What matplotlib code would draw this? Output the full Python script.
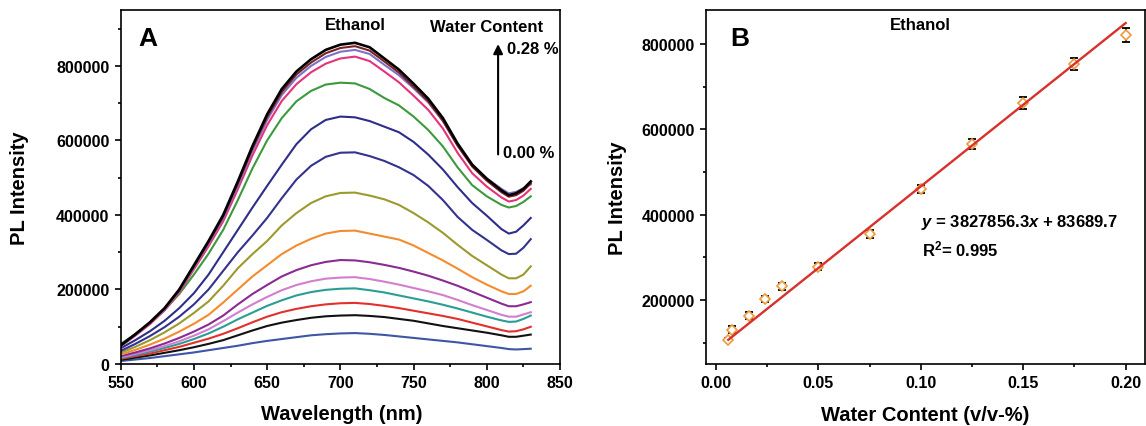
import numpy as np
import matplotlib
matplotlib.use('Agg')
import matplotlib.pyplot as plt
from matplotlib.ticker import MultipleLocator, FormatStrFormatter

plt.rcParams['font.family'] = ['Liberation Sans', 'DejaVu Sans']
plt.rcParams['font.weight'] = 'bold'
plt.rcParams['axes.labelweight'] = 'bold'
plt.rcParams['mathtext.fontset'] = 'custom'
plt.rcParams['mathtext.rm'] = 'Liberation Sans:bold'
plt.rcParams['mathtext.it'] = 'Liberation Sans:italic:bold'
plt.rcParams['mathtext.bf'] = 'Liberation Sans:bold'

# ---- panel A: PL spectra, intensities in units of 1e3 counts ----
wavelength = [550, 560, 570, 580, 590, 600, 610, 620, 630, 640, 650, 660, 670, 680, 690,
              700, 710, 720, 730, 740, 750, 760, 770, 780, 790, 800, 810, 815, 820, 825, 830]

pl_blue = [8, 12, 16, 21, 26, 31, 37, 43, 49, 56, 62, 67, 72, 77, 80, 82, 83, 81, 78, 74,
           70, 66, 62, 58, 53, 48, 43, 40, 39, 40, 41]
pl_black = [11, 17, 23, 30, 37, 45, 54, 64, 77, 90, 102, 111, 118, 124, 128, 130, 131, 129, 126, 121,
            116, 109, 102, 96, 90, 84, 77, 73, 73, 76, 79]
pl_red = [14, 21, 28, 37, 46, 57, 68, 81, 96, 112, 127, 139, 148, 155, 160, 163, 164, 161, 156, 150,
          143, 136, 129, 121, 111, 101, 91, 87, 88, 93, 100]
pl_teal = [16, 24, 33, 43, 54, 67, 82, 100, 120, 138, 156, 171, 184, 193, 199, 202, 203, 198, 192, 184,
           176, 168, 159, 149, 138, 127, 117, 113, 114, 121, 130]
pl_lilac = [18, 27, 37, 48, 61, 76, 93, 115, 138, 160, 180, 198, 212, 222, 229, 232, 233, 228, 221, 213,
            204, 195, 185, 172, 158, 145, 132, 127, 127, 133, 139]
pl_purple = [21, 31, 42, 55, 70, 87, 106, 130, 160, 188, 212, 235, 252, 265, 274, 279, 278, 273, 266, 258,
             248, 237, 224, 210, 194, 178, 162, 155, 155, 160, 166]
pl_orange = [25, 38, 52, 68, 87, 108, 132, 165, 200, 235, 265, 295, 318, 336, 350, 357, 358, 350, 342, 334,
             318, 298, 278, 256, 233, 213, 195, 188, 188, 195, 210]
pl_olive = [30, 46, 64, 85, 109, 137, 168, 210, 257, 295, 330, 372, 405, 432, 450, 459, 460, 452, 442, 427,
            405, 380, 352, 320, 290, 265, 240, 230, 230, 240, 262]
pl_navy1 = [35, 54, 75, 99, 127, 160, 200, 250, 300, 345, 392, 445, 495, 532, 556, 567, 568, 558, 545, 528,
            507, 478, 440, 395, 360, 333, 305, 295, 296, 312, 335]
pl_navy2 = [42, 64, 88, 116, 150, 190, 240, 300, 360, 420, 478, 535, 590, 630, 655, 664, 662, 652, 637, 622,
            596, 562, 522, 475, 432, 398, 362, 350, 355, 372, 392]
pl_green = [54, 80, 110, 145, 188, 240, 296, 360, 440, 525, 600, 660, 705, 733, 750, 755, 753, 738, 714, 694,
            664, 628, 584, 528, 480, 450, 427, 420, 424, 435, 450]
pl_pink = [47, 76, 107, 144, 192, 254, 316, 383, 469, 560, 641, 706, 751, 783, 806, 820, 825, 813, 785, 756,
           720, 682, 632, 567, 512, 476, 447, 436, 440, 452, 470]
pl_violet = [48, 78, 110, 147, 196, 259, 323, 391, 479, 572, 655, 722, 768, 800, 824, 838, 843, 832, 803, 775,
             740, 702, 652, 588, 535, 498, 470, 458, 462, 472, 482]
pl_brown = [49, 79, 111, 149, 198, 262, 327, 396, 485, 579, 663, 730, 777, 809, 834, 848, 853, 841, 812, 782,
            744, 705, 653, 586, 530, 492, 461, 449, 453, 465, 485]
pl_top = [50, 80, 112, 150, 200, 265, 330, 400, 490, 585, 670, 738, 785, 818, 843, 857, 862, 850, 820, 790,
          752, 712, 660, 592, 535, 497, 466, 453, 458, 470, 490]

spectra = [pl_blue, pl_black, pl_red, pl_teal, pl_lilac, pl_purple, pl_orange, pl_olive,
           pl_navy1, pl_navy2, pl_green, pl_pink, pl_violet, pl_brown, pl_top]
colors = ['#3F56A6', '#111111', '#E3302B', '#2A9E94', '#D27FCF', '#8A2B93', '#F28C2E', '#9B9A2E',
          '#33338F', '#2E2E88', '#3C9A3C', '#E6327A', '#8270C6', '#7A2323', '#000000']

# ---- panel B: calibration ----
water = [0.006, 0.008, 0.016, 0.024, 0.032, 0.05, 0.075, 0.1, 0.125, 0.15, 0.175, 0.2]
pl_mean = [107000, 130500, 163000, 202000, 232000, 278000, 355000, 460000, 565500, 663000, 753000, 821000]
pl_err = [3000, 8000, 8000, 7000, 7500, 8000, 10000, 9500, 11000, 14000, 14000, 16000]
slope = 3827856.3
intercept = 83689.7


def style_axes(ax):
    for s in ax.spines.values():
        s.set_linewidth(1.2)
    ax.tick_params(which='both', direction='out', top=False, right=False, width=1.2, labelsize=11.5, pad=4)
    ax.tick_params(which='major', length=4)
    ax.tick_params(which='minor', length=2.5)


fig = plt.figure(figsize=(11.46, 4.27), dpi=100)

# panel A
ax1 = fig.add_axes([0.1053, 0.1452, 0.3834, 0.829])
wl = np.array(wavelength)
for vals, c in zip(spectra, colors):
    lw = 1.9 if vals is pl_top else 1.5
    ax1.plot(wl, np.array(vals) * 1000, color=c, lw=lw)
ax1.set_xlim(550, 850)
ax1.set_ylim(0, 950000)
ax1.xaxis.set_major_locator(MultipleLocator(50))
ax1.xaxis.set_minor_locator(MultipleLocator(25))
ax1.yaxis.set_major_locator(MultipleLocator(200000))
ax1.yaxis.set_minor_locator(MultipleLocator(100000))
ax1.yaxis.set_major_formatter(FormatStrFormatter('%d'))
style_axes(ax1)
ax1.set_xlabel('Wavelength (nm)', fontsize=14.5)
ax1.set_ylabel('PL Intensity', fontsize=14.5)
ax1.xaxis.set_label_coords(0.503, -0.112)
ax1.yaxis.set_label_coords(-0.209, 0.5)
ax1.text(0.04, 0.955, 'A', transform=ax1.transAxes, fontsize=19, fontweight='bold', va='top')
ax1.text(0.533, 0.958, 'Ethanol', transform=ax1.transAxes, fontsize=12, ha='center', va='center')
ax1.text(0.832, 0.953, 'Water Content', transform=ax1.transAxes, fontsize=12, ha='center', va='center')
ax1.annotate('', xy=(807.7, 866000), xytext=(807.7, 555000),
             arrowprops=dict(arrowstyle='-|>', color='black', lw=1.5, mutation_scale=14))
ax1.text(813.5, 847000, '0.28 %', fontsize=12, ha='left', va='center')
ax1.text(811, 568000, '0.00 %', fontsize=12, ha='left', va='center')

# panel B
ax2 = fig.add_axes([0.616, 0.1452, 0.383, 0.829])
ax2.errorbar(water, pl_mean, yerr=pl_err, fmt='none', ecolor='black', elinewidth=1.3,
             capsize=3, capthick=1.3, zorder=2)
ax2.plot(water, pl_mean, ls='none', marker='D', ms=5, mfc='white', mec='#EE9A3A', mew=1.2, zorder=3)
fit_x = np.array([water[0], water[-1]])
ax2.plot(fit_x, slope * fit_x + intercept, color='#D8302A', lw=1.7, zorder=4)
ax2.set_xlim(-0.0049, 0.2094)
ax2.set_ylim(50000, 880000)
ax2.xaxis.set_major_locator(MultipleLocator(0.05))
ax2.xaxis.set_minor_locator(MultipleLocator(0.025))
ax2.xaxis.set_major_formatter(FormatStrFormatter('%.2f'))
ax2.yaxis.set_major_locator(MultipleLocator(200000))
ax2.yaxis.set_minor_locator(MultipleLocator(100000))
ax2.yaxis.set_major_formatter(FormatStrFormatter('%d'))
style_axes(ax2)
ax2.set_xlabel('Water Content (v/v-%)', fontsize=14.5)
ax2.set_ylabel('PL Intensity', fontsize=14.5)
ax2.xaxis.set_label_coords(0.50, -0.115)
ax2.yaxis.set_label_coords(-0.18, 0.47)
ax2.text(0.055, 0.955, 'B', transform=ax2.transAxes, fontsize=19, fontweight='bold', va='top')
ax2.text(0.489, 0.96, 'Ethanol', transform=ax2.transAxes, fontsize=12, ha='center', va='center')
ax2.text(0.1001, 383000, r'$y$ = 3827856.3$x$ + 83689.7', fontsize=12, ha='left', va='center')
ax2.text(0.1005, 320000, r'R$^2$= 0.995', fontsize=12, ha='left', va='center')

fig.savefig('out.png', dpi=100)
